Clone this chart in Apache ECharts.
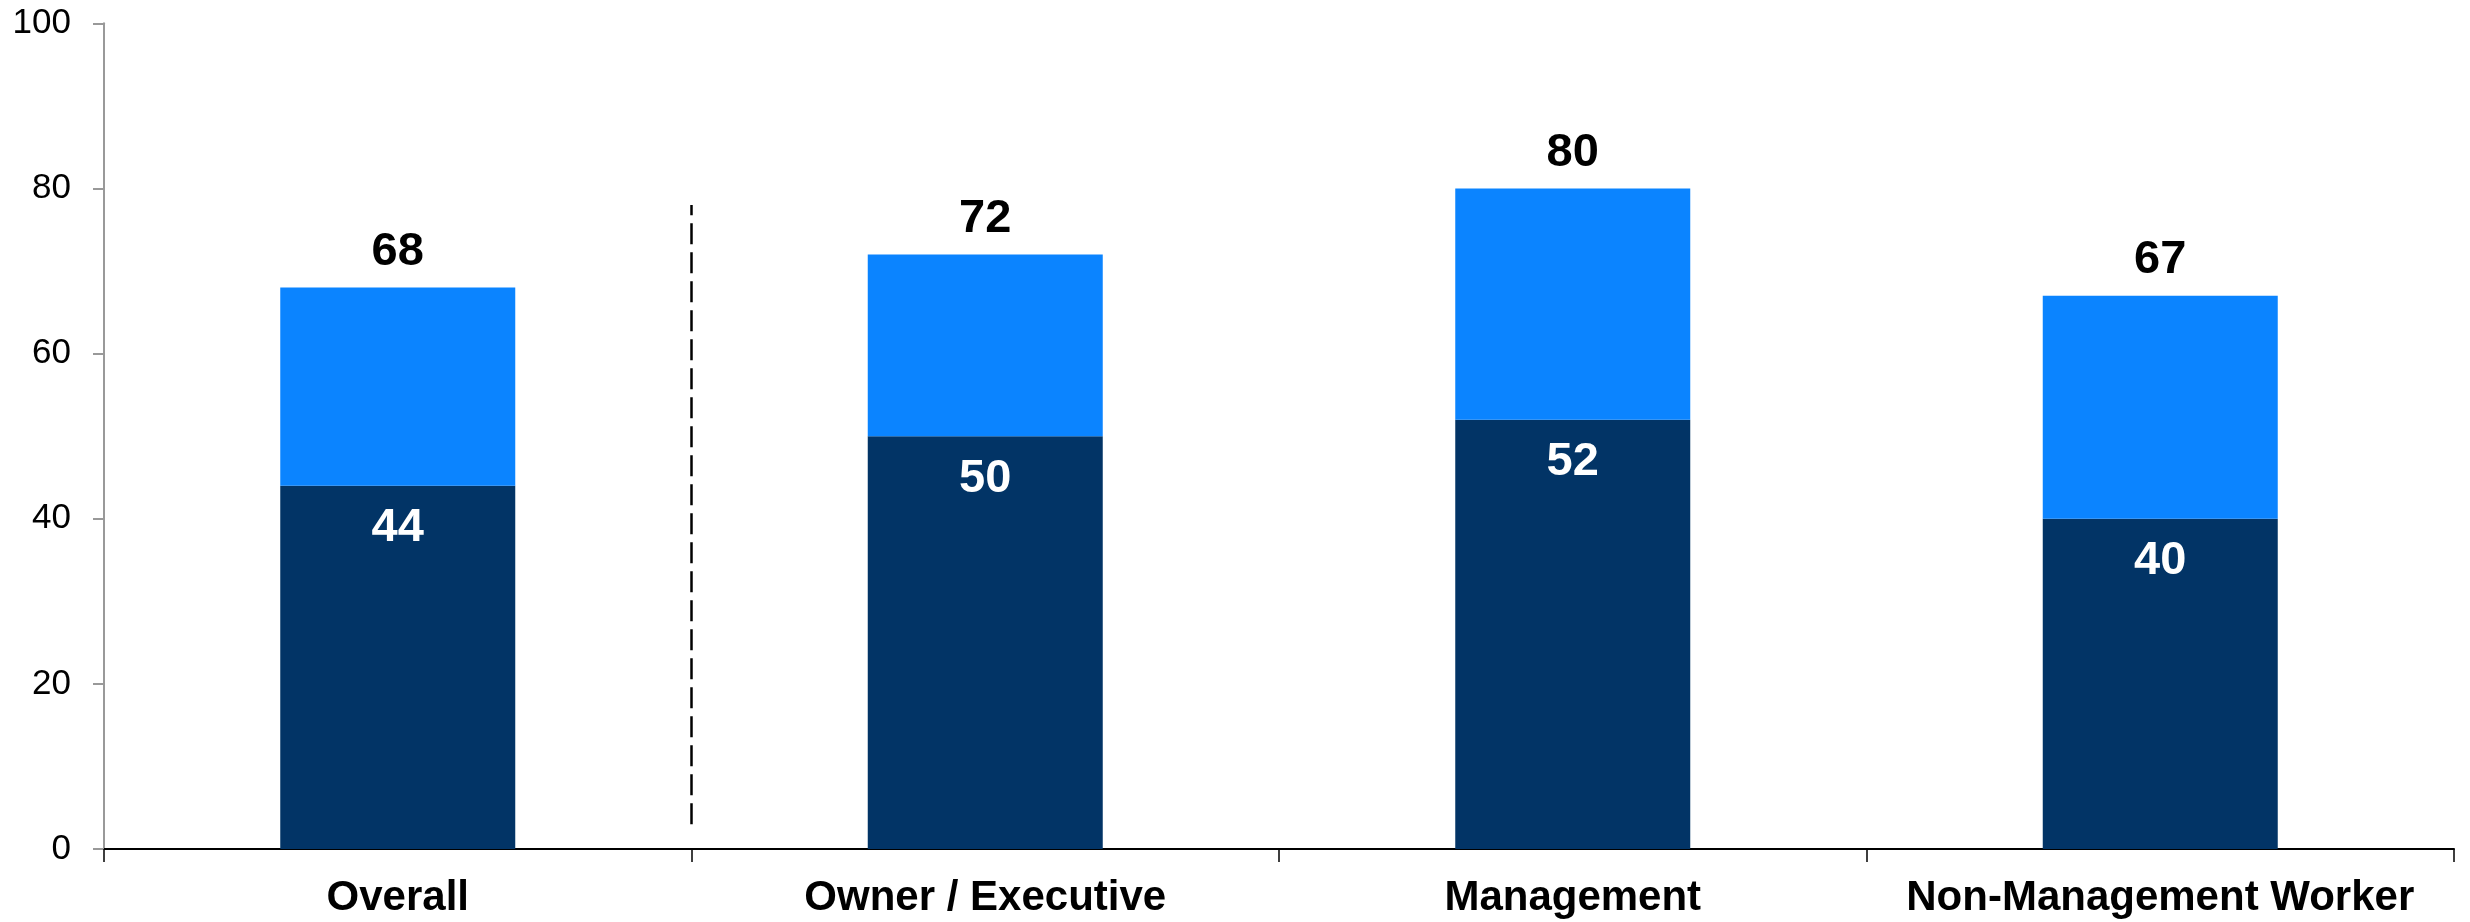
<!DOCTYPE html>
<html>
<head>
<meta charset="utf-8">
<style>
  html, body { margin: 0; padding: 0; background: #ffffff; }
  #chart { width: 2470px; height: 922px; }
</style>
<script src="https://cdn.jsdelivr.net/npm/echarts@6/dist/echarts.min.js"></script>
</head>
<body>
<div id="chart"></div>
<script>
// Categories along the x axis
const categories = ['Overall', 'Owner / Executive', 'Management', 'Non-Management Worker'];
// Lower (dark) segment of each stack
const baseValues = [44, 50, 52, 40];
// Total height of each stack, shown above the bar
const totalValues = [68, 72, 80, 67];
// Upper (light) segment = total minus lower segment
const upperValues = totalValues.map((t, i) => t - baseValues[i]);
// Y axis range and step
const yMin = 0, yMax = 100, yStep = 20;
// Vertical dashed separator after the first category (x position in category units, y range)
const separatorX = 1;
const separatorRange = [3, 78];

const FONT = '"Liberation Sans", Arial, Helvetica, sans-serif';

const chart = echarts.init(document.getElementById('chart'), null, { renderer: 'canvas' });

chart.setOption({
  animation: false,
  backgroundColor: '#ffffff',
  grid: { left: 104, right: 16, top: 23.3, bottom: 73, containLabel: false },
  xAxis: [
    {
      type: 'category',
      data: categories,
      boundaryGap: true,
      axisLine: { show: true, lineStyle: { color: '#000000', width: 2 } },
      axisTick: { show: true, length: 13, lineStyle: { color: '#000000', width: 1.5 } },
      axisLabel: {
        margin: 28,
        color: '#000000',
        fontFamily: FONT,
        fontWeight: 'bold',
        fontSize: 42,
        interval: 0
      }
    },
    {
      type: 'value',
      min: 0,
      max: categories.length,
      show: false
    }
  ],
  yAxis: {
    type: 'value',
    min: yMin,
    max: yMax,
    interval: yStep,
    splitLine: { show: false },
    axisLine: { show: true, onZero: false, lineStyle: { color: '#999999', width: 2 } },
    axisTick: { show: true, inside: false, length: 11, lineStyle: { color: '#999999', width: 2 } },
    axisLabel: {
      margin: 33,
      color: '#000000',
      fontFamily: FONT,
      fontSize: 35
    }
  },
  series: [
    {
      name: 'base',
      type: 'bar',
      stack: 'total',
      barWidth: '40%',
      data: baseValues,
      itemStyle: { color: '#023466' },
      label: {
        show: true,
        position: 'insideTop',
        distance: 19,
        color: '#ffffff',
        fontFamily: FONT,
        fontWeight: 'bold',
        fontSize: 47
      }
    },
    {
      name: 'upper',
      type: 'bar',
      stack: 'total',
      barWidth: '40%',
      data: upperValues,
      itemStyle: { color: '#0B84FF' },
      label: {
        show: true,
        position: 'top',
        distance: 12,
        color: '#000000',
        fontFamily: FONT,
        fontWeight: 'bold',
        fontSize: 47,
        formatter: (p) => String(totalValues[p.dataIndex])
      }
    },
    {
      name: 'separator',
      type: 'line',
      xAxisIndex: 1,
      data: [[separatorX, separatorRange[0]], [separatorX, separatorRange[1]]],
      symbol: 'none',
      silent: true,
      lineStyle: { color: '#000000', width: 2.5, type: [21, 8] },
      z: 5
    }
  ]
});
</script>
</body>
</html>
